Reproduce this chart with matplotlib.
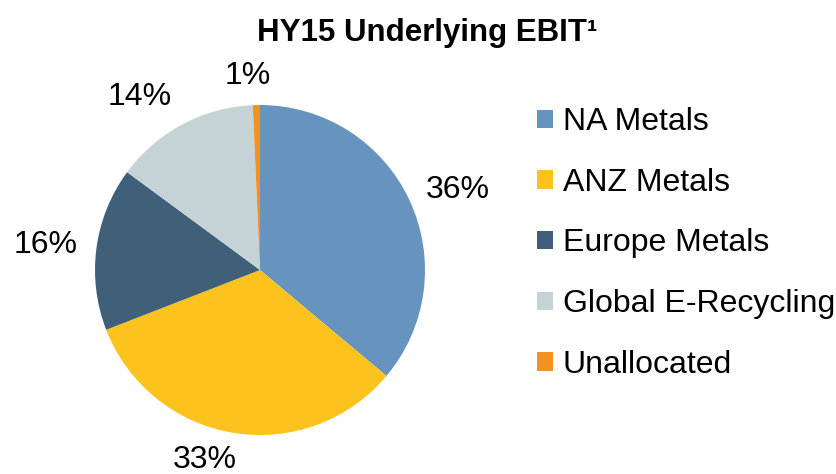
import matplotlib
matplotlib.use("Agg")
import matplotlib.pyplot as plt
from matplotlib.patches import Patch
import numpy as np

plt.rcParams['font.family'] = ['Liberation Sans', 'DejaVu Sans']

categories = ["NA Metals", "ANZ Metals", "Europe Metals", "Global E-Recycling", "Unallocated"]
values = [36.1, 33.0, 16.0, 14.2, 0.7]
pct_labels = ["36%", "33%", "16%", "14%", "1%"]
colors = ["#6694BF", "#FCC21E", "#40607A", "#C5D3D7", "#F39220"]
label_radius = [1.25, 1.17, 1.31, 1.19, 1.18]
label_dx = [0.067, -0.143, 0.0, -0.167, -0.047]
label_dy = [-0.044, 0.003, -0.02, 0.0, -0.004]

W, H = 837, 474
fig = plt.figure(figsize=(W / 100, H / 100), dpi=100)
cx, cy, r = 260, 270, 165
ax = fig.add_axes([(cx - r) / W, (H - cy - r) / H, 2 * r / W, 2 * r / H])
wedges, _ = ax.pie(values, colors=colors, startangle=90, counterclock=False,
                   radius=1.0, wedgeprops=dict(linewidth=0))
ax.set_xlim(-1, 1)
ax.set_ylim(-1, 1)
ax.set_aspect('equal')
ax.axis('off')

for w, lab, rr, dx, dy in zip(wedges, pct_labels, label_radius, label_dx, label_dy):
    ang = np.deg2rad((w.theta1 + w.theta2) / 2)
    ax.text(rr * np.cos(ang) + dx, rr * np.sin(ang) + dy, lab, ha='center', va='center',
            fontsize=23, clip_on=False)

fig.text(427 / W, 1 - 33 / H, "HY15 Underlying EBIT¹", ha='center', va='center',
         fontsize=22.5, fontweight='bold')

handles = [Patch(facecolor=c, edgecolor='none') for c in colors]
fig.legend(handles, categories, loc='center left', bbox_to_anchor=(537 / W, 1 - 243.5 / H),
           frameon=False, fontsize=23, handlelength=0.5, handleheight=0.5,
           handletextpad=0.3, labelspacing=0.96, borderpad=0, borderaxespad=0)

fig.savefig("out.png", dpi=100)
